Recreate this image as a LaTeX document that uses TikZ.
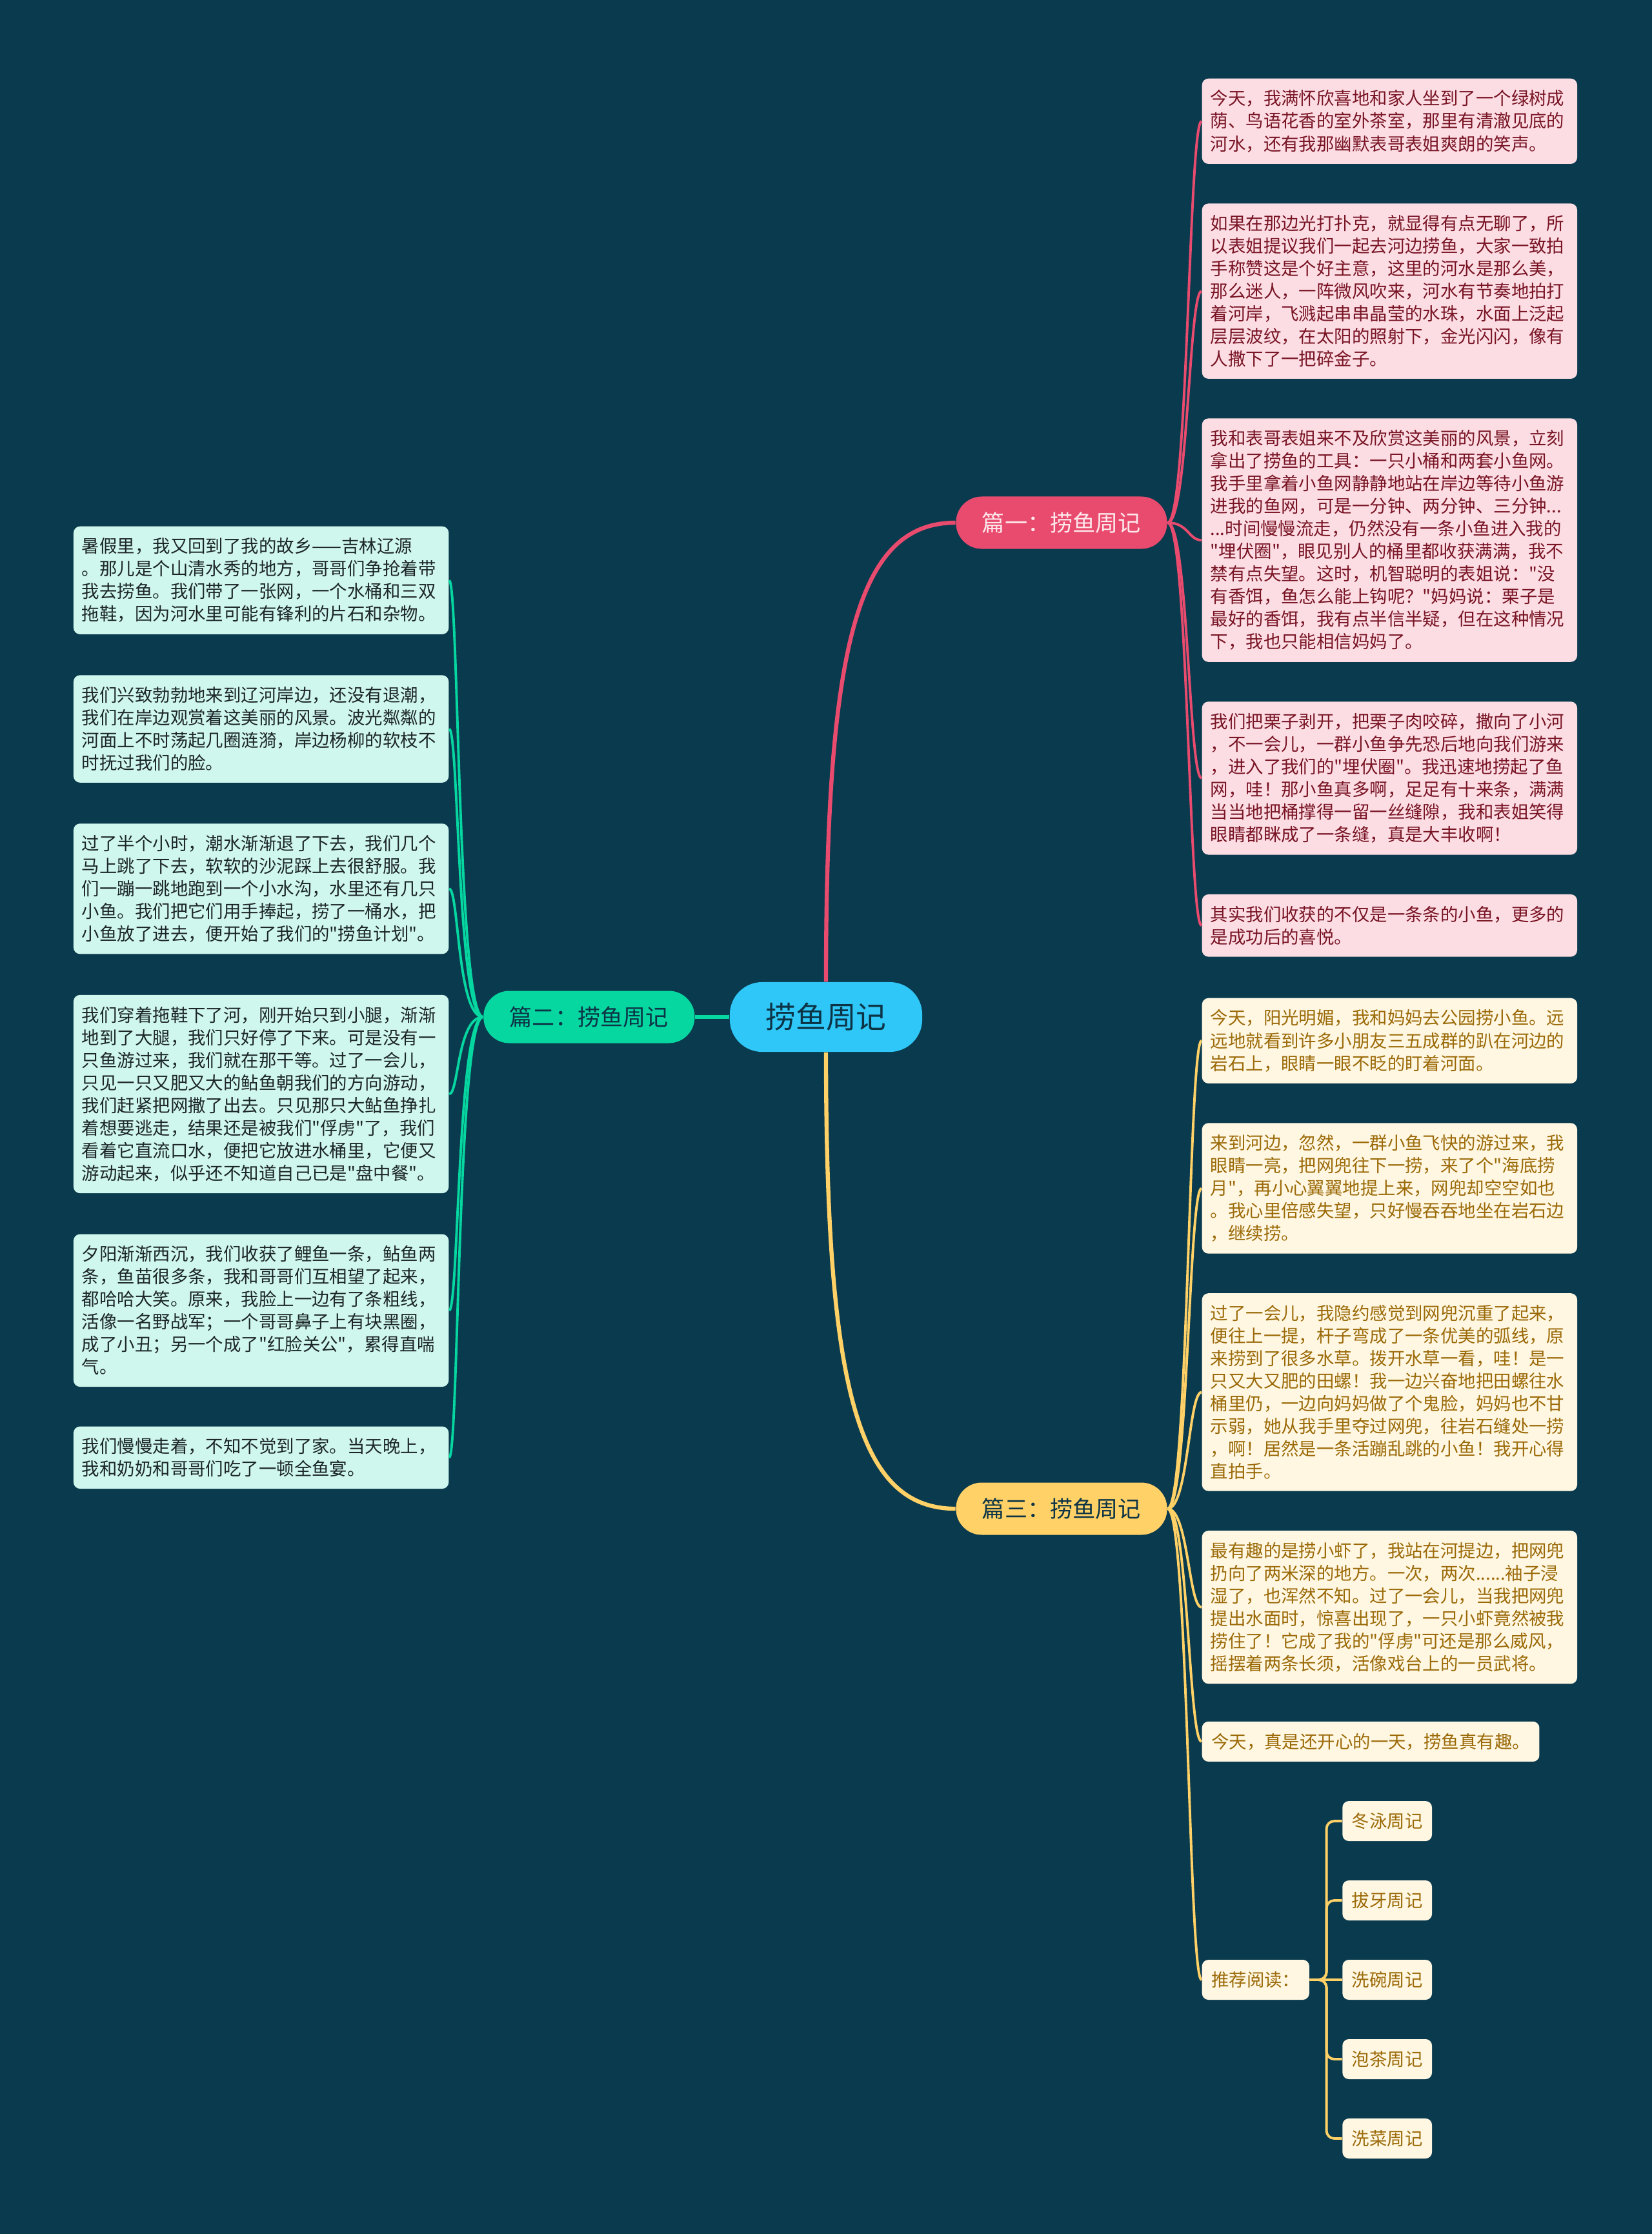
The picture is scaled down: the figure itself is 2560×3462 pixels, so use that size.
\documentclass[tikz,border=0pt]{standalone}
\usepackage{fontspec}
\setmainfont{Noto Sans CJK SC}[Ligatures=TeXOff]
\usepackage{tikz}
\usetikzlibrary{positioning,calc}
\definecolor{bgteal}{RGB}{10,58,78}
\definecolor{rootblue}{RGB}{46,199,247}
\definecolor{yipink}{RGB}{233,75,110}
\definecolor{yitext}{RGB}{253,232,236}
\definecolor{ergreen}{RGB}{6,214,160}
\definecolor{sanyellow}{RGB}{255,209,102}
\definecolor{pinkfill}{RGB}{253,221,228}
\definecolor{pinktext}{RGB}{120,20,36}
\definecolor{mintfill}{RGB}{208,247,237}
\definecolor{minttext}{RGB}{28,38,40}
\definecolor{creamfill}{RGB}{255,247,226}
\definecolor{creamtext}{RGB}{155,106,8}
\definecolor{darktext}{RGB}{12,52,70}

\begin{document}
\begin{tikzpicture}[
  x=0.01cm, y=-0.01cm,
  rootnode/.style = {
    rectangle, fill=rootblue, rounded corners=0.5cm,
    minimum width=2.98cm, minimum height=1.08cm,
    font=\fontsize{13.3}{16}\selectfont, text=darktext
  },
  branchnode/.style = {
    rectangle, rounded corners=0.4cm,
    minimum width=3.27cm, minimum height=0.81cm,
    font=\fontsize{10}{12}\selectfont
  },
  notebox/.style = {
    rectangle, rounded corners=0.1cm, inner xsep=0.13cm, inner ysep=0.18cm,
    font=\fontsize{7.8}{9.96}\selectfont
  },
  wide/.style  = {text width=5.55cm, align=left},
  pnote/.style = {notebox, wide, fill=pinkfill, text=pinktext},
  gnote/.style = {notebox, wide, fill=mintfill, text=minttext},
  ynote/.style = {notebox, wide, fill=creamfill, text=creamtext},
  ytag/.style  = {notebox, fill=creamfill, text=creamtext, minimum height=0.62cm, inner xsep=0.145cm},
  trunk/.style = {line width=1.8pt},
  plink/.style = {line width=1.1pt, draw=yipink},
  glink/.style = {line width=1.1pt, draw=ergreen},
  ylink/.style = {line width=1.1pt, draw=sanyellow}
]
  \fill[bgteal] (0,0) rectangle (2560,3462);
  \useasboundingbox (0,0) rectangle (2560,3462);

  \node[rootnode] (root) at (1280,1576) {捞鱼周记};
  \node[branchnode, fill=yipink, text=yitext] (yi) at (1645,810) {篇一：捞鱼周记};
  \node[branchnode, fill=ergreen, text=darktext, left=0.53cm of root] (er) {篇二：捞鱼周记};
  \node[branchnode, fill=sanyellow, text=darktext] (san) at (1645,2338) {篇三：捞鱼周记};

  \node[pnote, anchor=north west] (p1) at (1862,121) {今天，我满怀欣喜地和家人坐到了一个绿树成\\荫、鸟语花香的室外茶室，那里有清澈见底的\\河水，还有我那幽默表哥表姐爽朗的笑声。};
  \node[pnote, below=0.6cm of p1] (p2) {如果在那边光打扑克，就显得有点无聊了，所\\以表姐提议我们一起去河边捞鱼，大家一致拍\\手称赞这是个好主意，这里的河水是那么美，\\那么迷人，一阵微风吹来，河水有节奏地拍打\\着河岸，飞溅起串串晶莹的水珠，水面上泛起\\层层波纹，在太阳的照射下，金光闪闪，像有\\人撒下了一把碎金子。};
  \node[pnote, below=0.6cm of p2] (p3) {我和表哥表姐来不及欣赏这美丽的风景，立刻\\拿出了捞鱼的工具：一只小桶和两套小鱼网。\\我手里拿着小鱼网静静地站在岸边等待小鱼游\\进我的鱼网，可是一分钟、两分钟、三分钟...\\...时间慢慢流走，仍然没有一条小鱼进入我的\\"埋伏圈"，眼见别人的桶里都收获满满，我不\\禁有点失望。这时，机智聪明的表姐说："没\\有香饵，鱼怎么能上钩呢？"妈妈说：栗子是\\最好的香饵，我有点半信半疑，但在这种情况\\下，我也只能相信妈妈了。};
  \node[pnote, below=0.6cm of p3] (p4) {我们把栗子剥开，把栗子肉咬碎，撒向了小河\\，不一会儿，一群小鱼争先恐后地向我们游来\\，进入了我们的"埋伏圈"。我迅速地捞起了鱼\\网，哇！那小鱼真多啊，足足有十来条，满满\\当当地把桶撑得一留一丝缝隙，我和表姐笑得\\眼睛都眯成了一条缝，真是大丰收啊！};
  \node[pnote, below=0.6cm of p4] (p5) {其实我们收获的不仅是一条条的小鱼，更多的\\是成功后的喜悦。};

  \node[ynote, anchor=north west] (y1) at (1862,1546) {今天，阳光明媚，我和妈妈去公园捞小鱼。远\\远地就看到许多小朋友三五成群的趴在河边的\\岩石上，眼睛一眼不眨的盯着河面。};
  \node[ynote, below=0.6cm of y1] (y2) {来到河边，忽然，一群小鱼飞快的游过来，我\\眼睛一亮，把网兜往下一捞，来了个"海底捞\\月"，再小心翼翼地提上来，网兜却空空如也\\。我心里倍感失望，只好慢吞吞地坐在岩石边\\，继续捞。};
  \node[ynote, below=0.6cm of y2] (y3) {过了一会儿，我隐约感觉到网兜沉重了起来，\\便往上一提，杆子弯成了一条优美的弧线，原\\来捞到了很多水草。拨开水草一看，哇！是一\\只又大又肥的田螺！我一边兴奋地把田螺往水\\桶里仍，一边向妈妈做了个鬼脸，妈妈也不甘\\示弱，她从我手里夺过网兜，往岩石缝处一捞\\，啊！居然是一条活蹦乱跳的小鱼！我开心得\\直拍手。};
  \node[ynote, below=0.6cm of y3] (y4) {最有趣的是捞小虾了，我站在河提边，把网兜\\扔向了两米深的地方。一次，两次......袖子浸\\湿了，也浑然不知。过了一会儿，当我把网兜\\提出水面时，惊喜出现了，一只小虾竟然被我\\捞住了！它成了我的"俘虏"可还是那么威风，\\摇摆着两条长须，活像戏台上的一员武将。};
  \node[ytag, below right=0.57cm and 0cm of y4.south west] (y5) {今天，真是还开心的一天，捞鱼真有趣。};
  \node[ytag, anchor=west] (rec) at (1862,3068) {推荐阅读：};
  \node[ytag, right=0.5cm of rec] (r3) {洗碗周记};
  \node[ytag, above=0.595cm of r3] (r2) {拔牙周记};
  \node[ytag, above=0.595cm of r2] (r1) {冬泳周记};
  \node[ytag, below=0.595cm of r3] (r4) {泡茶周记};
  \node[ytag, below=0.595cm of r4] (r5) {洗菜周记};

  \node[gnote, anchor=north east] (g1) at (696,815) {暑假里，我又回到了我的故乡——吉林辽源\\。那儿是个山清水秀的地方，哥哥们争抢着带\\我去捞鱼。我们带了一张网，一个水桶和三双\\拖鞋，因为河水里可能有锋利的片石和杂物。};
  \node[gnote, below=0.62cm of g1] (g2) {我们兴致勃勃地来到辽河岸边，还没有退潮，\\我们在岸边观赏着这美丽的风景。波光粼粼的\\河面上不时荡起几圈涟漪，岸边杨柳的软枝不\\时抚过我们的脸。};
  \node[gnote, below=0.62cm of g2] (g3) {过了半个小时，潮水渐渐退了下去，我们几个\\马上跳了下去，软软的沙泥踩上去很舒服。我\\们一蹦一跳地跑到一个小水沟，水里还有几只\\小鱼。我们把它们用手捧起，捞了一桶水，把\\小鱼放了进去，便开始了我们的"捞鱼计划"。};
  \node[gnote, below=0.62cm of g3] (g4) {我们穿着拖鞋下了河，刚开始只到小腿，渐渐\\地到了大腿，我们只好停了下来。可是没有一\\只鱼游过来，我们就在那干等。过了一会儿，\\只见一只又肥又大的鲇鱼朝我们的方向游动，\\我们赶紧把网撒了出去。只见那只大鲇鱼挣扎\\着想要逃走，结果还是被我们"俘虏"了，我们\\看着它直流口水，便把它放进水桶里，它便又\\游动起来，似乎还不知道自己已是"盘中餐"。};
  \node[gnote, below=0.62cm of g4] (g5) {夕阳渐渐西沉，我们收获了鲤鱼一条，鲇鱼两\\条，鱼苗很多条，我和哥哥们互相望了起来，\\都哈哈大笑。原来，我脸上一边有了条粗线，\\活像一名野战军；一个哥哥鼻子上有块黑圈，\\成了小丑；另一个成了"红脸关公"，累得直喘\\气。};
  \node[gnote, below=0.6cm of g5] (g6) {我们慢慢走着，不知不觉到了家。当天晚上，\\我和奶奶和哥哥们吃了一顿全鱼宴。};

  \draw[trunk, draw=yipink] (root.north) .. controls +(0,-522) and +(-152,0) .. (yi.west);
  \draw[trunk, draw=sanyellow] (root.south) .. controls +(0,520) and +(-152,0) .. (san.west);
  \draw[trunk, draw=ergreen] (root.west) -- (er.east);

  \draw[plink] (yi.east) .. controls +(32,0) and +(-20,0) .. (p1.west);
  \draw[plink] (yi.east) .. controls +(32,0) and +(-20,0) .. (p2.west);
  \draw[plink] (yi.east) .. controls +(32,0) and +(-20,0) .. (p3.west);
  \draw[plink] (yi.east) .. controls +(32,0) and +(-20,0) .. (p4.west);
  \draw[plink] (yi.east) .. controls +(32,0) and +(-20,0) .. (p5.west);

  \draw[ylink] (san.east) .. controls +(32,0) and +(-20,0) .. (y1.west);
  \draw[ylink] (san.east) .. controls +(32,0) and +(-20,0) .. (y2.west);
  \draw[ylink] (san.east) .. controls +(32,0) and +(-20,0) .. (y3.west);
  \draw[ylink] (san.east) .. controls +(32,0) and +(-20,0) .. (y4.west);
  \draw[ylink] (san.east) .. controls +(32,0) and +(-20,0) .. (y5.west);
  \draw[ylink] (san.east) .. controls +(32,0) and +(-20,0) .. (rec.west);

  \draw[ylink, rounded corners=0.12cm] (rec.east) -- ++(26,0) |- (r1.west);
  \draw[ylink, rounded corners=0.12cm] (rec.east) -- ++(26,0) |- (r2.west);
  \draw[ylink] (rec.east) -- (r3.west);
  \draw[ylink, rounded corners=0.12cm] (rec.east) -- ++(26,0) |- (r4.west);
  \draw[ylink, rounded corners=0.12cm] (rec.east) -- ++(26,0) |- (r5.west);

  \draw[glink] (er.west) .. controls +(-40,0) and +(15,0) .. (g1.east);
  \draw[glink] (er.west) .. controls +(-40,0) and +(15,0) .. (g2.east);
  \draw[glink] (er.west) .. controls +(-40,0) and +(15,0) .. (g3.east);
  \draw[glink] (er.west) .. controls +(-40,0) and +(15,0) .. (g4.east);
  \draw[glink] (er.west) .. controls +(-40,0) and +(15,0) .. (g5.east);
  \draw[glink] (er.west) .. controls +(-40,0) and +(15,0) .. (g6.east);
\end{tikzpicture}
\end{document}
